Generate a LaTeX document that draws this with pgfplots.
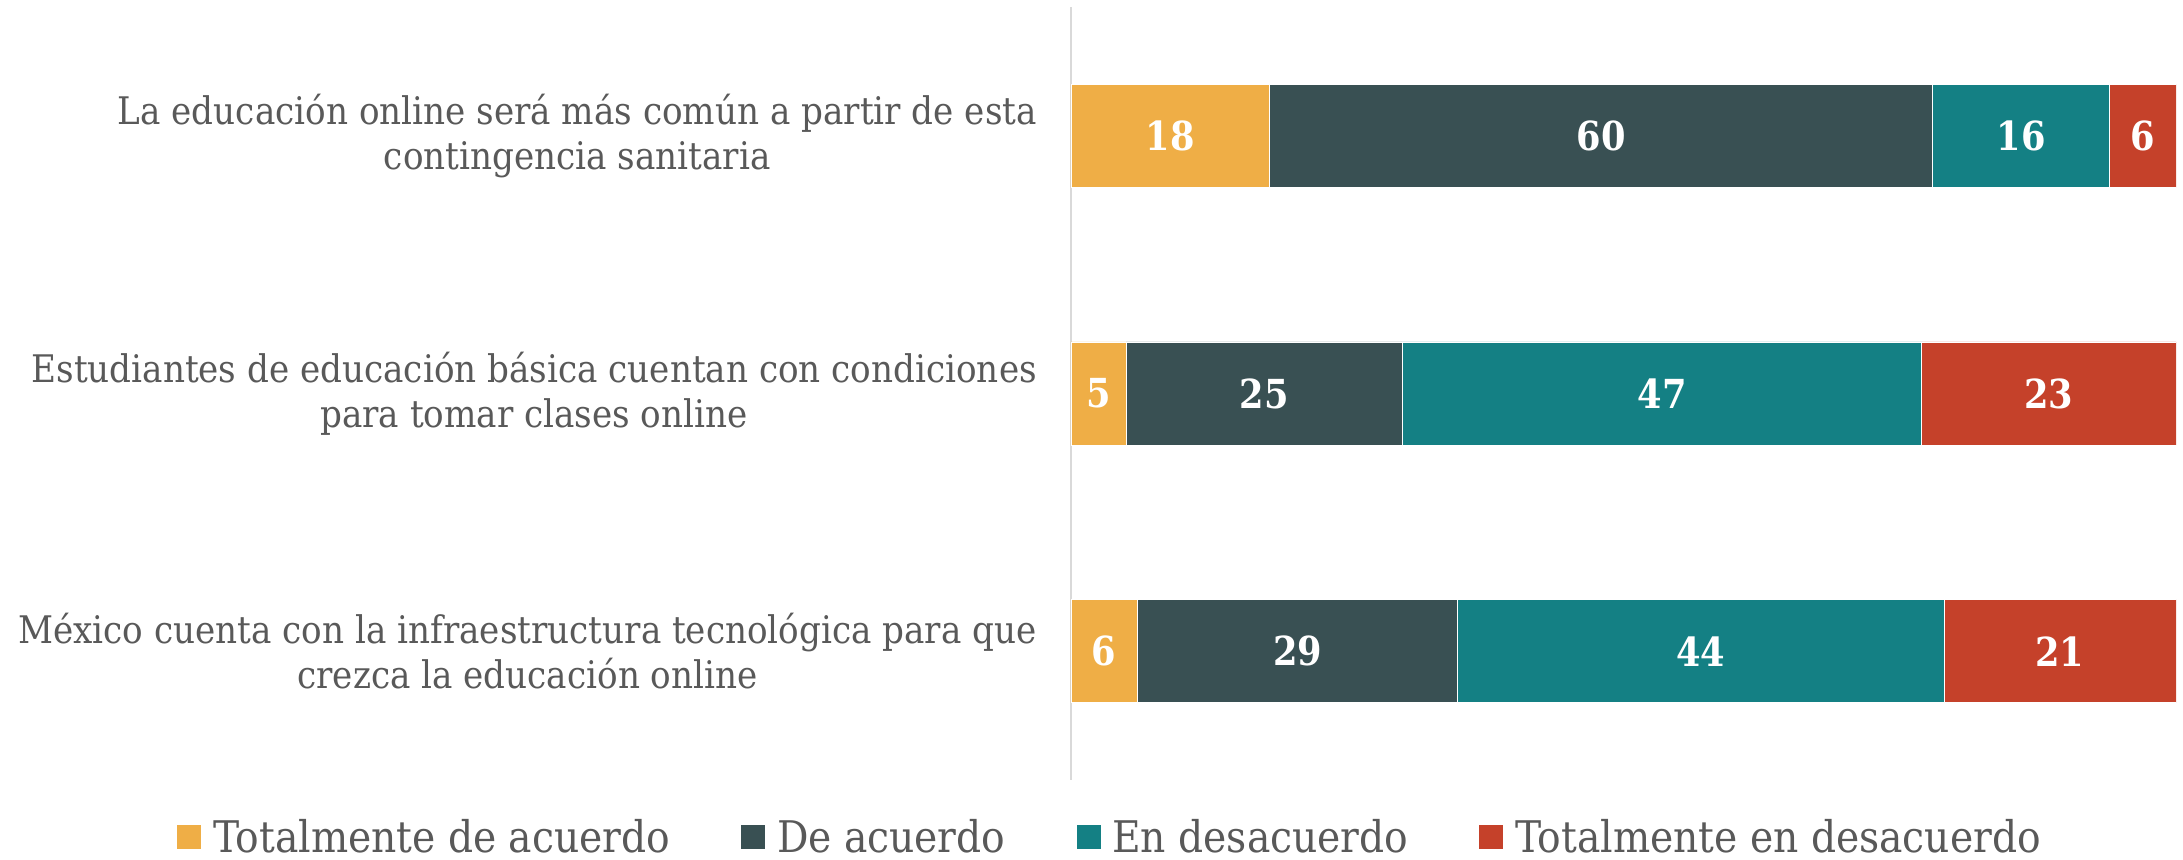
\documentclass[border=0pt]{standalone}
\usepackage{pgfplots}
\pgfplotsset{compat=1.18}
\usepackage{fontspec}
\setmainfont{DejaVu Serif Condensed}
\newfontfamily\numfont{DejaVu Serif}[FakeStretch=0.88]
\definecolor{cOr}{HTML}{EFAE46}
\definecolor{cDk}{HTML}{395053}
\definecolor{cTl}{HTML}{148084}
\definecolor{cRd}{HTML}{C5412A}
\definecolor{txt}{HTML}{595959}
\definecolor{axl}{HTML}{D9D9D9}
\begin{document}
\begin{tikzpicture}
\begin{axis}[
  scale only axis,
  width=552.5pt, height=386.5pt,
  xbar stacked,
  bar width=0.4,
  xmin=0, xmax=100,
  ymin=-0.5, ymax=2.5,
  y dir=reverse,
  axis x line=none,
  axis y line=left,
  axis line style={-, draw=axl, line width=0.8pt},
  ytick={0,1,2},
  yticklabels={{La educación online será más común a partir de esta\\contingencia sanitaria},
               {Estudiantes de educación básica cuentan con condiciones\\para tomar clases online},
               {México cuenta con la infraestructura tecnológica para que\\crezca la educación online}},
  major tick length=0pt,
  yticklabel style={font=\fontsize{19pt}{22.3pt}\selectfont, align=center, text=txt, inner sep=0pt, xshift=-17pt},
  /pgf/number format/assume math mode=true,
  nodes near coords,
  every node near coord/.append style={font=\numfont\bfseries\fontsize{20pt}{24pt}\selectfont, text=white},
  legend columns=-1,
  legend style={at={(axis description cs:-0.810,-0.074)}, anchor=west, draw=none, fill=none, inner sep=0pt,
     font=\fontsize{21.8pt}{24pt}\selectfont, text=txt,
     /tikz/every even column/.append style={column sep=33pt},
     /tikz/every odd column/.append style={column sep=3.5pt}},
  legend image code/.code={\fill[#1] (0pt,-6.25pt) rectangle (12.5pt,6.25pt);},
]
\addplot[fill=cOr, draw=white, line width=0.4pt] coordinates {(18,0) (5,1) (6,2)};
\addplot[fill=cDk, draw=white, line width=0.4pt] coordinates {(60,0) (25,1) (29,2)};
\addplot[fill=cTl, draw=white, line width=0.4pt] coordinates {(16,0) (47,1) (44,2)};
\addplot[fill=cRd, draw=white, line width=0.4pt] coordinates {(6,0) (23,1) (21,2)};
\legend{Totalmente de acuerdo, De acuerdo, En desacuerdo, Totalmente en desacuerdo}
\end{axis}
\pgfresetboundingbox
\path[use as bounding box] ([shift={(-535.5pt,-39.5pt)}]current axis.south west) rectangle ++(1091.5pt,429.5pt);
\end{tikzpicture}
\end{document}
